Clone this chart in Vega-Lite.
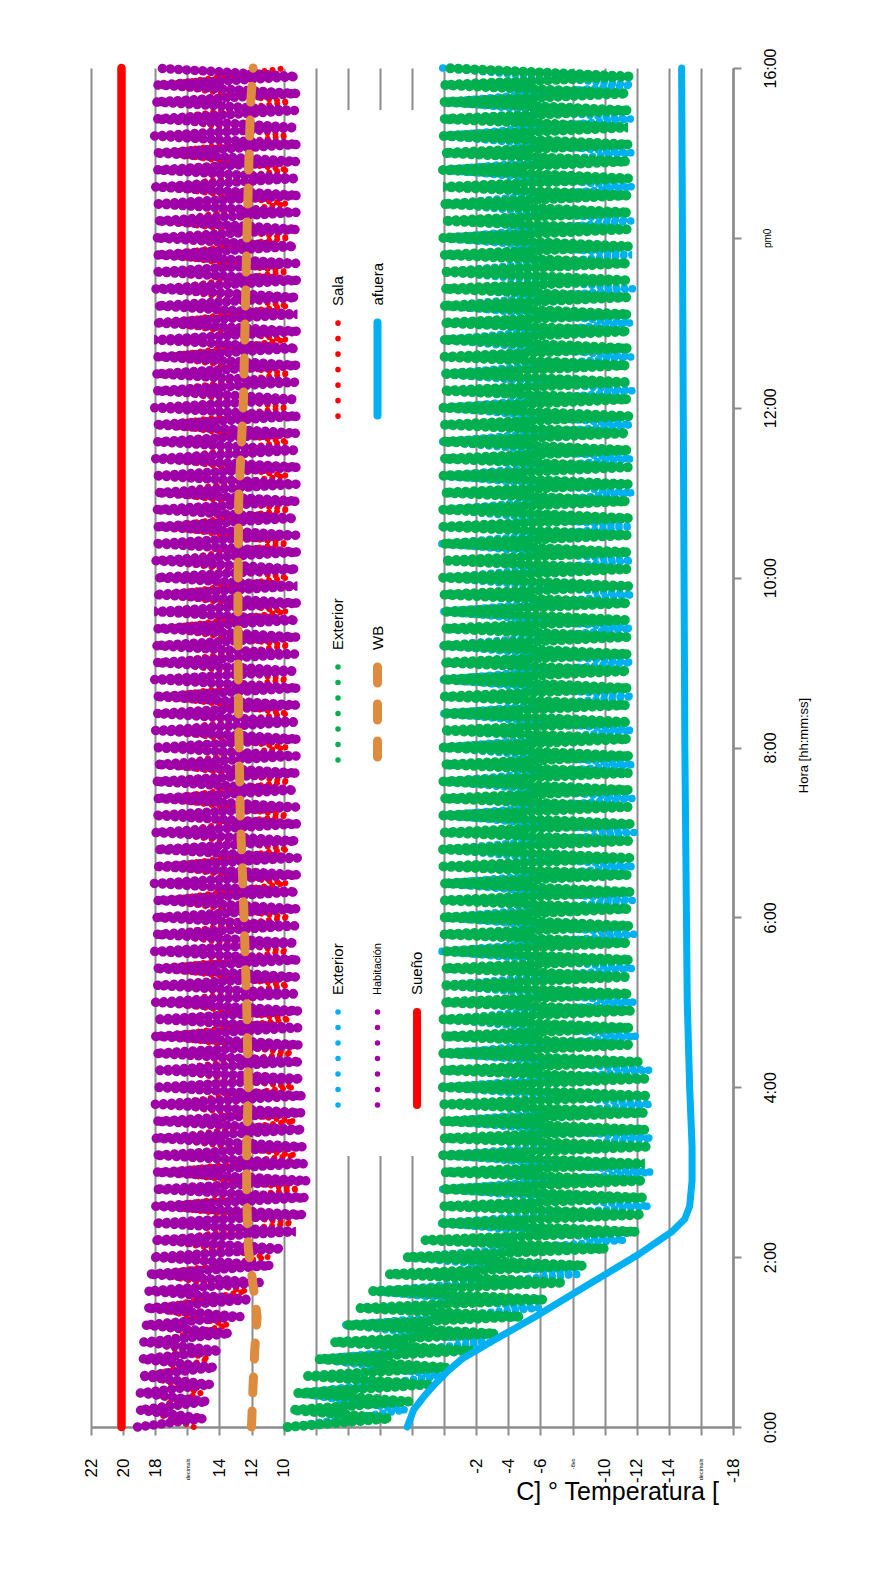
{
"$schema":"https://vega.github.io/schema/vega-lite/v6.json",
"width":642,"height":1359,
"autosize":{"type":"none"},
"padding":{"left":91,"top":68,"right":153,"bottom":148},
"background":"white",
"config":{"view":{"stroke":null},"font":"Liberation Sans"},
"datasets":{
"e1":[{"t":0,"v":9.8},{"t":0.2,"v":2.4},{"t":0.4,"v":9.2},{"t":0.6,"v":0},{"t":0.8,"v":7.9},{"t":1,"v":-2.85},{"t":1.2,"v":6.15},{"t":1.4,"v":-5.9},{"t":1.6,"v":4.5},{"t":1.8,"v":-8.5},{"t":2,"v":2.4},{"t":2.2,"v":-11.25},{"t":2.4,"v":0.3},{"t":2.6,"v":-12.8},{"t":2.8,"v":0.1},{"t":3,"v":-12.9},{"t":3.2,"v":0.1},{"t":3.4,"v":-12.95},{"t":3.6,"v":0.1},{"t":3.8,"v":-12.9},{"t":4,"v":0.1},{"t":4.2,"v":-12.8},{"t":4.4,"v":0.15},{"t":4.6,"v":-12},{"t":4.8,"v":0.1},{"t":5,"v":-11.9},{"t":5.2,"v":0.1},{"t":5.4,"v":-11.8},{"t":5.6,"v":0.15},{"t":5.8,"v":-11.85},{"t":6,"v":0.05},{"t":6.2,"v":-11.75},{"t":6.4,"v":0.1},{"t":6.6,"v":-11.8},{"t":6.8,"v":0.15},{"t":7,"v":-11.85},{"t":7.2,"v":0.05},{"t":7.4,"v":-11.75},{"t":7.6,"v":0.1},{"t":7.8,"v":-11.8},{"t":8,"v":0.15},{"t":8.2,"v":-11.7},{"t":8.4,"v":0.05},{"t":8.6,"v":-11.75},{"t":8.8,"v":0.1},{"t":9,"v":-11.7},{"t":9.2,"v":0.15},{"t":9.4,"v":-11.65},{"t":9.6,"v":0.05},{"t":9.8,"v":-11.75},{"t":10,"v":0.1},{"t":10.2,"v":-11.7},{"t":10.4,"v":0.15},{"t":10.6,"v":-11.65},{"t":10.8,"v":0.05},{"t":11,"v":-11.75},{"t":11.2,"v":0.1},{"t":11.4,"v":-11.7},{"t":11.6,"v":0.15},{"t":11.8,"v":-11.65},{"t":12,"v":0.05},{"t":12.2,"v":-11.75},{"t":12.4,"v":0.1},{"t":12.6,"v":-11.7},{"t":12.8,"v":0.15},{"t":13,"v":-11.65},{"t":13.2,"v":0.05},{"t":13.4,"v":-11.75},{"t":13.6,"v":0.1},{"t":13.8,"v":-11.7},{"t":14,"v":0.15},{"t":14.2,"v":-11.65},{"t":14.4,"v":0.05},{"t":14.6,"v":-11.75},{"t":14.8,"v":0.1},{"t":15,"v":-11.7},{"t":15.2,"v":0.15},{"t":15.4,"v":-11.65},{"t":15.6,"v":0.05},{"t":15.8,"v":-11.7},{"t":16,"v":0.1}],
"e2":[{"t":0,"v":9.75},{"t":0.1,"v":3.4},{"t":0.2,"v":9.45},{"t":0.3,"v":2.2},{"t":0.4,"v":9.15},{"t":0.5,"v":1},{"t":0.6,"v":8.5},{"t":0.7,"v":-0.2},{"t":0.8,"v":7.85},{"t":0.9,"v":-1.7},{"t":1,"v":6.9},{"t":1.1,"v":-3.2},{"t":1.2,"v":6.1},{"t":1.3,"v":-4.75},{"t":1.4,"v":5.25},{"t":1.5,"v":-6.2},{"t":1.6,"v":4.45},{"t":1.7,"v":-7.45},{"t":1.8,"v":3.45},{"t":1.9,"v":-8.7},{"t":2,"v":2.35},{"t":2.1,"v":-10.05},{"t":2.2,"v":1.2},{"t":2.3,"v":-12},{"t":2.4,"v":0.25},{"t":2.5,"v":-12.35},{"t":2.6,"v":0.05},{"t":2.7,"v":-12.4},{"t":2.8,"v":0.1},{"t":2.9,"v":-12.45},{"t":3,"v":0},{"t":3.1,"v":-12.5},{"t":3.2,"v":0.08},{"t":3.3,"v":-12.6},{"t":3.4,"v":0.05},{"t":3.5,"v":-12.55},{"t":3.6,"v":0.1},{"t":3.7,"v":-12.5},{"t":3.8,"v":0},{"t":3.9,"v":-12.55},{"t":4,"v":0.08},{"t":4.1,"v":-12.5},{"t":4.2,"v":0.05},{"t":4.3,"v":-12.1},{"t":4.4,"v":0.1},{"t":4.5,"v":-11.7},{"t":4.6,"v":0},{"t":4.7,"v":-11.6},{"t":4.8,"v":0.08},{"t":4.9,"v":-11.65},{"t":5,"v":0.05},{"t":5.1,"v":-11.55},{"t":5.2,"v":0.1},{"t":5.3,"v":-11.5},{"t":5.4,"v":0},{"t":5.5,"v":-11.6},{"t":5.6,"v":0.08},{"t":5.7,"v":-11.45},{"t":5.8,"v":0.05},{"t":5.9,"v":-11.55},{"t":6,"v":0.1},{"t":6.1,"v":-11.5},{"t":6.2,"v":0},{"t":6.3,"v":-11.6},{"t":6.4,"v":0.08},{"t":6.5,"v":-11.45},{"t":6.6,"v":0.05},{"t":6.7,"v":-11.55},{"t":6.8,"v":0.1},{"t":6.9,"v":-11.5},{"t":7,"v":0},{"t":7.1,"v":-11.6},{"t":7.2,"v":0.08},{"t":7.3,"v":-11.45},{"t":7.4,"v":0.05},{"t":7.5,"v":-11.55},{"t":7.6,"v":0.1},{"t":7.7,"v":-11.5},{"t":7.8,"v":0},{"t":7.9,"v":-11.6},{"t":8,"v":0.08},{"t":8.1,"v":-11.45},{"t":8.2,"v":0.05},{"t":8.3,"v":-11.5},{"t":8.4,"v":0.1},{"t":8.5,"v":-11.4},{"t":8.6,"v":0},{"t":8.7,"v":-11.5},{"t":8.8,"v":0.08},{"t":8.9,"v":-11.45},{"t":9,"v":0.05},{"t":9.1,"v":-11.5},{"t":9.2,"v":0.1},{"t":9.3,"v":-11.4},{"t":9.4,"v":0},{"t":9.5,"v":-11.5},{"t":9.6,"v":0.08},{"t":9.7,"v":-11.45},{"t":9.8,"v":0.05},{"t":9.9,"v":-11.5},{"t":10,"v":0.1},{"t":10.1,"v":-11.4},{"t":10.2,"v":0},{"t":10.3,"v":-11.5},{"t":10.4,"v":0.08},{"t":10.5,"v":-11.45},{"t":10.6,"v":0.05},{"t":10.7,"v":-11.5},{"t":10.8,"v":0.1},{"t":10.9,"v":-11.4},{"t":11,"v":0},{"t":11.1,"v":-11.5},{"t":11.2,"v":0.08},{"t":11.3,"v":-11.45},{"t":11.4,"v":0.05},{"t":11.5,"v":-11.5},{"t":11.6,"v":0.1},{"t":11.7,"v":-11.4},{"t":11.8,"v":0},{"t":11.9,"v":-11.5},{"t":12,"v":0.08},{"t":12.1,"v":-11.45},{"t":12.2,"v":0.05},{"t":12.3,"v":-11.5},{"t":12.4,"v":0.1},{"t":12.5,"v":-11.4},{"t":12.6,"v":0},{"t":12.7,"v":-11.5},{"t":12.8,"v":0.08},{"t":12.9,"v":-11.45},{"t":13,"v":0.05},{"t":13.1,"v":-11.5},{"t":13.2,"v":0.1},{"t":13.3,"v":-11.4},{"t":13.4,"v":0},{"t":13.5,"v":-11.5},{"t":13.6,"v":0.08},{"t":13.7,"v":-11.45},{"t":13.8,"v":0.05},{"t":13.9,"v":-11.5},{"t":14,"v":0.1},{"t":14.1,"v":-11.4},{"t":14.2,"v":0},{"t":14.3,"v":-11.5},{"t":14.4,"v":0.08},{"t":14.5,"v":-11.45},{"t":14.6,"v":0.05},{"t":14.7,"v":-11.5},{"t":14.8,"v":0.1},{"t":14.9,"v":-11.4},{"t":15,"v":0},{"t":15.1,"v":-11.5},{"t":15.2,"v":0.08},{"t":15.3,"v":-11.45},{"t":15.4,"v":0.05},{"t":15.5,"v":-11.5},{"t":15.6,"v":0.1},{"t":15.7,"v":-11.4},{"t":15.8,"v":0},{"t":15.9,"v":-11.5},{"t":16,"v":0.08}],
"e3":[{"t":0,"v":15.6},{"t":0.2,"v":18.5},{"t":0.4,"v":15.15},{"t":0.6,"v":18.4},{"t":0.8,"v":14.65},{"t":1,"v":18.25},{"t":1.2,"v":13.45},{"t":1.4,"v":18.05},{"t":1.6,"v":12.3},{"t":1.8,"v":17.9},{"t":2,"v":10.95},{"t":2.2,"v":17.6},{"t":2.4,"v":9.45},{"t":2.6,"v":17.5},{"t":2.8,"v":9.05},{"t":3,"v":17.45},{"t":3.2,"v":9.25},{"t":3.4,"v":17.55},{"t":3.6,"v":9.3},{"t":3.8,"v":17.5},{"t":4,"v":9.35},{"t":4.2,"v":17.45},{"t":4.4,"v":9.45},{"t":4.6,"v":17.5},{"t":4.8,"v":9.6},{"t":5,"v":17.4},{"t":5.2,"v":9.7},{"t":5.4,"v":17.5},{"t":5.6,"v":9.75},{"t":5.8,"v":17.45},{"t":6,"v":9.65},{"t":6.2,"v":17.55},{"t":6.4,"v":9.8},{"t":6.6,"v":17.4},{"t":6.8,"v":9.7},{"t":7,"v":17.5},{"t":7.2,"v":9.75},{"t":7.4,"v":17.45},{"t":7.6,"v":9.65},{"t":7.8,"v":17.55},{"t":8,"v":9.8},{"t":8.2,"v":17.4},{"t":8.4,"v":9.7},{"t":8.6,"v":17.5},{"t":8.8,"v":9.75},{"t":9,"v":17.45},{"t":9.2,"v":9.65},{"t":9.4,"v":17.55},{"t":9.6,"v":9.8},{"t":9.8,"v":17.4},{"t":10,"v":9.7},{"t":10.2,"v":17.5},{"t":10.4,"v":9.75},{"t":10.6,"v":17.45},{"t":10.8,"v":9.65},{"t":11,"v":17.55},{"t":11.2,"v":9.8},{"t":11.4,"v":17.4},{"t":11.6,"v":9.7},{"t":11.8,"v":17.5},{"t":12,"v":9.75},{"t":12.2,"v":17.45},{"t":12.4,"v":9.65},{"t":12.6,"v":17.55},{"t":12.8,"v":9.8},{"t":13,"v":17.4},{"t":13.2,"v":9.7},{"t":13.4,"v":17.5},{"t":13.6,"v":9.75},{"t":13.8,"v":17.45},{"t":14,"v":9.65},{"t":14.2,"v":17.55},{"t":14.4,"v":9.8},{"t":14.6,"v":17.4},{"t":14.8,"v":9.7},{"t":15,"v":17.5},{"t":15.2,"v":9.75},{"t":15.4,"v":17.45},{"t":15.6,"v":9.65},{"t":15.8,"v":17.55},{"t":16,"v":9.8}],
"e4":[{"t":0,"v":19.1},{"t":0.1,"v":15},{"t":0.2,"v":19},{"t":0.3,"v":14.75},{"t":0.4,"v":18.95},{"t":0.5,"v":14.55},{"t":0.6,"v":18.9},{"t":0.7,"v":14.3},{"t":0.8,"v":18.85},{"t":0.9,"v":14},{"t":1,"v":18.75},{"t":1.1,"v":13.35},{"t":1.2,"v":18.65},{"t":1.3,"v":12.7},{"t":1.4,"v":18.55},{"t":1.5,"v":12.1},{"t":1.6,"v":18.45},{"t":1.7,"v":11.5},{"t":1.8,"v":18.4},{"t":1.9,"v":10.8},{"t":2,"v":18.2},{"t":2.1,"v":10.1},{"t":2.2,"v":18.1},{"t":2.3,"v":9.25},{"t":2.4,"v":18.05},{"t":2.5,"v":8.8},{"t":2.6,"v":18},{"t":2.7,"v":8.6},{"t":2.8,"v":18},{"t":2.9,"v":8.55},{"t":3,"v":17.95},{"t":3.1,"v":8.7},{"t":3.2,"v":18},{"t":3.3,"v":8.8},{"t":3.4,"v":18.05},{"t":3.5,"v":8.8},{"t":3.6,"v":17.95},{"t":3.7,"v":8.85},{"t":3.8,"v":18},{"t":3.9,"v":8.8},{"t":4,"v":18},{"t":4.1,"v":8.9},{"t":4.2,"v":17.95},{"t":4.3,"v":8.95},{"t":4.4,"v":18},{"t":4.5,"v":9},{"t":4.6,"v":18.05},{"t":4.7,"v":9.1},{"t":4.8,"v":17.95},{"t":4.9,"v":9.05},{"t":5,"v":18},{"t":5.1,"v":9.15},{"t":5.2,"v":17.9},{"t":5.3,"v":9.2},{"t":5.4,"v":18},{"t":5.5,"v":9.1},{"t":5.6,"v":18.05},{"t":5.7,"v":9.25},{"t":5.8,"v":17.95},{"t":5.9,"v":9.3},{"t":6,"v":18},{"t":6.1,"v":9.15},{"t":6.2,"v":17.9},{"t":6.3,"v":9.2},{"t":6.4,"v":18.05},{"t":6.5,"v":9.1},{"t":6.6,"v":18},{"t":6.7,"v":9.15},{"t":6.8,"v":17.9},{"t":6.9,"v":9.2},{"t":7,"v":18},{"t":7.1,"v":9.1},{"t":7.2,"v":18.05},{"t":7.3,"v":9.25},{"t":7.4,"v":17.95},{"t":7.5,"v":9.3},{"t":7.6,"v":18},{"t":7.7,"v":9.15},{"t":7.8,"v":17.9},{"t":7.9,"v":9.2},{"t":8,"v":18.05},{"t":8.1,"v":9.1},{"t":8.2,"v":18},{"t":8.3,"v":9.15},{"t":8.4,"v":17.9},{"t":8.5,"v":9.2},{"t":8.6,"v":18},{"t":8.7,"v":9.1},{"t":8.8,"v":18.05},{"t":8.9,"v":9.25},{"t":9,"v":17.95},{"t":9.1,"v":9.3},{"t":9.2,"v":18},{"t":9.3,"v":9.15},{"t":9.4,"v":17.9},{"t":9.5,"v":9.2},{"t":9.6,"v":18.05},{"t":9.7,"v":9.1},{"t":9.8,"v":18},{"t":9.9,"v":9.15},{"t":10,"v":17.9},{"t":10.1,"v":9.2},{"t":10.2,"v":18},{"t":10.3,"v":9.1},{"t":10.4,"v":18.05},{"t":10.5,"v":9.25},{"t":10.6,"v":17.95},{"t":10.7,"v":9.3},{"t":10.8,"v":18},{"t":10.9,"v":9.15},{"t":11,"v":17.9},{"t":11.1,"v":9.2},{"t":11.2,"v":18.05},{"t":11.3,"v":9.1},{"t":11.4,"v":18},{"t":11.5,"v":9.15},{"t":11.6,"v":17.9},{"t":11.7,"v":9.2},{"t":11.8,"v":18},{"t":11.9,"v":9.1},{"t":12,"v":18.05},{"t":12.1,"v":9.25},{"t":12.2,"v":17.95},{"t":12.3,"v":9.3},{"t":12.4,"v":18},{"t":12.5,"v":9.15},{"t":12.6,"v":17.9},{"t":12.7,"v":9.2},{"t":12.8,"v":18.05},{"t":12.9,"v":9.1},{"t":13,"v":18},{"t":13.1,"v":9.15},{"t":13.2,"v":17.9},{"t":13.3,"v":9.2},{"t":13.4,"v":18},{"t":13.5,"v":9.1},{"t":13.6,"v":18.05},{"t":13.7,"v":9.25},{"t":13.8,"v":17.95},{"t":13.9,"v":9.3},{"t":14,"v":18},{"t":14.1,"v":9.15},{"t":14.2,"v":17.9},{"t":14.3,"v":9.2},{"t":14.4,"v":18.05},{"t":14.5,"v":9.1},{"t":14.6,"v":18},{"t":14.7,"v":9.15},{"t":14.8,"v":17.9},{"t":14.9,"v":9.2},{"t":15,"v":18},{"t":15.1,"v":9.1},{"t":15.2,"v":18.05},{"t":15.3,"v":9.25},{"t":15.4,"v":17.95},{"t":15.5,"v":9.3},{"t":15.6,"v":18},{"t":15.7,"v":9.15},{"t":15.8,"v":17.9},{"t":15.9,"v":9.2},{"t":16,"v":18}],
"wb":[{"t":0,"v":12},{"t":0.5,"v":11.9},{"t":0.9,"v":11.8},{"t":1.3,"v":11.65},{"t":1.6,"v":11.85},{"t":2.1,"v":12.2},{"t":2.7,"v":12.3},{"t":3.3,"v":12.3},{"t":4,"v":12.2},{"t":5,"v":12.3},{"t":6.2,"v":12.5},{"t":7.2,"v":12.7},{"t":8.3,"v":12.8},{"t":9.5,"v":12.85},{"t":10.9,"v":12.8},{"t":12.1,"v":12.5},{"t":13,"v":12.4},{"t":13.9,"v":12.3},{"t":15,"v":12.15},{"t":15.6,"v":12.05},{"t":16,"v":11.9}],
"af":[{"t":0,"v":2.3},{"t":0.1,"v":2.1},{"t":0.2,"v":1.9},{"t":0.35,"v":1.3},{"t":0.5,"v":0.6},{"t":0.67,"v":-0.3},{"t":0.8,"v":-1.1},{"t":1,"v":-2.9},{"t":1.3,"v":-5.7},{"t":1.7,"v":-9.2},{"t":2.03,"v":-12.1},{"t":2.3,"v":-14.2},{"t":2.45,"v":-15},{"t":2.6,"v":-15.3},{"t":2.9,"v":-15.45},{"t":3.3,"v":-15.45},{"t":4,"v":-15.3},{"t":5,"v":-15.15},{"t":8,"v":-15},{"t":12,"v":-14.9},{"t":16,"v":-14.8}],
"su":[{"t":0,"v":20.1},{"t":8,"v":20.1},{"t":16,"v":20.1}]
},
"encoding":{
"x":{"field":"v","type":"quantitative",
 "scale":{"domain":[-18,22],"reverse":true,"nice":false,"zero":false},
 "axis":{"orient":"bottom","values":[22,20,18,16,14,12,10,8,6,4,2,0,-2,-4,-6,-8,-10,-12,-14,-16,-18],
  "grid":true,"gridColor":"#8C8C8C","gridWidth":2,
  "domainColor":"#8C8C8C","domainWidth":2.5,"tickColor":"#8C8C8C","tickWidth":2,"tickSize":8,
  "labelAngle":-90,"labelAlign":"right","labelBaseline":"middle","labelPadding":23,
  "labelFont":"Liberation Sans","labelColor":"black",
  "labelFontSize":{"condition":{"test":"datum.value==16||datum.value==-16||datum.value==-8","value":5.5},"value":17},
  "labelExpr":"datum.value==16||datum.value==-16 ? 'decimals' : datum.value==-8 ? '-8vo' : (datum.value>=0 && datum.value<=8) ? '' : (datum.value + '')",
  "labelOverlap":false,"labelBound":false,"labelFlush":false,
  "title":"C] ° Temperatura [","titleFont":"Liberation Sans","titleFontSize":25,"titleFontWeight":"normal","titleColor":"black",
  "titleAngle":0,"titleAlign":"center","titleBaseline":"alphabetic","titleX":526,"titleY":72}},
"y":{"field":"t","type":"quantitative",
 "scale":{"domain":[0,16],"nice":false,"zero":false},
 "axis":{"orient":"right","values":[0,2,4,6,8,10,12,14,16],"grid":false,
  "domainColor":"#8C8C8C","domainWidth":2.5,"tickColor":"#8C8C8C","tickWidth":2,"tickSize":8,
  "labelAngle":-90,"labelAlign":"center","labelBaseline":"top","labelPadding":21,
  "labelFont":"Liberation Sans","labelColor":"black",
  "labelFontSize":{"condition":{"test":"datum.value==14","value":10},"value":16},
  "labelExpr":"datum.value==14 ? 'pm0' : datum.value + ':00'",
  "labelOverlap":false,"labelBound":false,"labelFlush":false,
  "title":"Hora [hh:mm:ss]","titleFont":"Liberation Sans","titleFontSize":13,"titleFontWeight":"normal","titleColor":"black",
  "titleAngle":270,"titleAlign":"center","titleBaseline":"middle","titleX":70,"titleY":677}},
"order":{"field":"t","type":"quantitative"}
},
"layer":[
{"data":{"name":"e1"},"mark":{"type":"line","strokeWidth":7.5,"strokeDash":[0.1,8],"strokeCap":"round"},
 "encoding":{"color":{"datum":"Exterior1","type":"nominal",
  "scale":{"domain":["Sala","Exterior2","Exterior1","afuera","WB","Habitación","_a","_b","Sueño"],
           "range":["#FF0000","#00B050","#00B0F0","#00B0F0","#DE8A3F","#A000A8","#FFFFFF","#FFFFFF","#FF0000"]},
  "legend":{"orient":"none","legendX":237,"legendY":42,"direction":"vertical","columns":3,"gridAlign":"all",
   "columnPadding":24.5,"rowPadding":141,"padding":10,"fillColor":"white",
   "title":" ","titleFontSize":10,"titlePadding":238.5,
   "symbolType":"M0,-1L0,1.785","symbolSize":8649,"labelFontSize":15,"labelFont":"Liberation Sans","labelColor":"black","labelLimit":300,
   "encode":{
    "symbols":{"update":{
     "shape":{"value":"M0,-1L0,1.785"},
     "size":{"value":8649},
     "x":{"value":0},"y":{"value":0},
     "fill":{"value":"transparent"},
     "stroke":{"signal":"(datum.value=='Sala'||datum.value=='Sueño') ? '#FF0000' : (datum.value=='afuera'||datum.value=='Exterior1') ? '#00B0F0' : datum.value=='Exterior2' ? '#00B050' : datum.value=='WB' ? '#DE8A3F' : datum.value=='Habitación' ? '#A000A8' : 'transparent'"},
     "strokeWidth":{"signal":"datum.value=='WB' ? 9 : (datum.value=='Sueño'||datum.value=='afuera') ? 8 : 5.5"},
     "strokeDash":{"signal":"datum.value=='WB' ? [16,21,16,21,16,400] : (datum.value=='Sueño'||datum.value=='afuera') ? [93,400] : [0.1,15.4,0.1,15.4,0.1,15.4,0.1,15.4,0.1,15.4,0.1,15.4,0.1,400]"},
     "strokeCap":{"value":"round"},
     "strokeJoin":{"value":"round"},
     "opacity":{"value":1}
    }},
    "labels":{"update":{
     "text":{"signal":"(datum.value=='Exterior1'||datum.value=='Exterior2') ? 'Exterior' : (datum.value=='_a'||datum.value=='_b') ? '' : datum.value"},
     "angle":{"value":-90},"align":{"value":"left"},"baseline":{"value":"middle"},
     "x":{"value":0},"y":{"value":-63.5},
     "fontSize":{"signal":"datum.value=='Habitación' ? 11 : 15"},
     "font":{"value":"Liberation Sans"},"fill":{"value":"black"}
    }}
   }}}}},
{"data":{"name":"e2"},"mark":{"type":"line","strokeWidth":10,"strokeDash":[0.1,8],"strokeCap":"round"},
 "encoding":{"color":{"datum":"Exterior2","type":"nominal"}}},
{"data":{"name":"e3"},"mark":{"type":"line","strokeWidth":6,"strokeDash":[0.1,8],"strokeCap":"round"},
 "encoding":{"color":{"datum":"Sala","type":"nominal"}}},
{"data":{"name":"e4"},"mark":{"type":"line","strokeWidth":9.5,"strokeDash":[0.1,8],"strokeCap":"round"},
 "encoding":{"color":{"datum":"Habitación","type":"nominal"}}},
{"data":{"name":"wb"},"mark":{"type":"line","strokeWidth":9,"strokeDash":[16,18],"strokeCap":"round"},
 "encoding":{"color":{"datum":"WB","type":"nominal"}}},
{"data":{"name":"af"},"mark":{"type":"line","strokeWidth":7,"strokeCap":"round"},
 "encoding":{"color":{"datum":"afuera","type":"nominal"}}},
{"data":{"name":"su"},"mark":{"type":"line","strokeWidth":8.5,"strokeCap":"round"},
 "encoding":{"color":{"datum":"Sueño","type":"nominal"}}}
]
}
